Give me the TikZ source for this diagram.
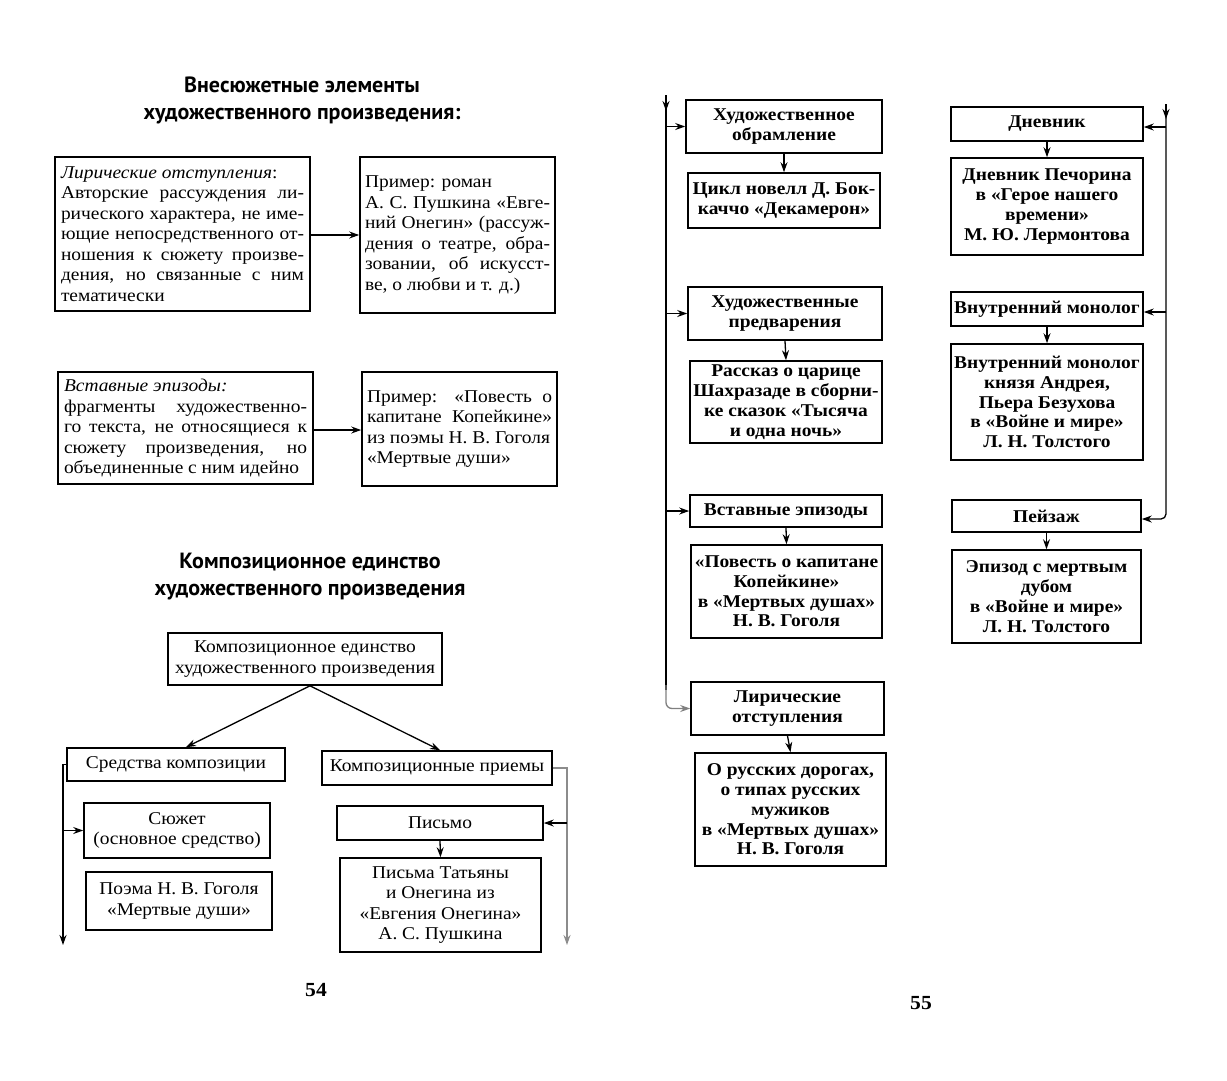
\documentclass[tikz,border=0pt]{standalone}
\usepackage{fontspec}
\setmainfont{Liberation Serif}[FakeStretch=1.08]
\newfontfamily\titlefont{PT Sans}
\usetikzlibrary{arrows.meta,calc}
\tikzset{
  box/.style={draw, line width=1.6pt, inner sep=0pt, font=\fontsize{18}{20.5}\selectfont, align=center},
  jbox/.style={box, align=justify},
  rbox/.style={box, font=\fontsize{18}{19.8}\selectfont\bfseries},
  arr/.style={line width=1.3pt, -{Stealth[length=10pt,width=7pt]}},
  ln/.style={line width=1.3pt},
  ttl/.style={font=\titlefont\bfseries\fontsize{22}{27}\selectfont, align=center},
  pnum/.style={font=\fontsize{20}{22}\selectfont\bfseries},
}
\begin{document}
\begin{tikzpicture}[x=1pt,y=-1pt]
\useasboundingbox[fill=white] (0,0) rectangle (1227,1080);

% ---------- left page ----------
\node[ttl] (t1) at (302,100) {Внесюжетные элементы\\художественного произведения:};

\node[jbox, minimum width=255pt, minimum height=154pt, text width=243pt] (l1) at (182.5,234)
 {\textit{Лирические отступления}:\\
  Авторские рассуждения ли-\linebreak
  рического характера, не име-\linebreak
  ющие непосредственного от-\linebreak
  ношения к сюжету произве-\linebreak
  дения, но связанные с ним\linebreak
  тематически};
\node[jbox, minimum width=195pt, minimum height=156pt, text width=185pt] (r1) at (457.5,235)
 {Пример: роман\\
  А. С. Пушкина «Евге-\linebreak
  ний Онегин» (рассуж-\linebreak
  дения о театре, обра-\linebreak
  зовании, об искусст-\linebreak
  ве, о любви и т. д.)};
\draw[arr] (l1.east |- 0,235) -- (r1.west |- 0,235);

\node[jbox, minimum width=255pt, minimum height=112pt, text width=243pt] (l2) at (185.5,428)
 {\textit{Вставные эпизоды:}\\
  фрагменты художественно-\linebreak
  го текста, не относящиеся к\linebreak
  сюжету произведения, но\linebreak
  объединенные с ним идейно};
\node[jbox, minimum width=195pt, minimum height=114pt, text width=185pt] (r2) at (459.5,429)
 {Пример: «Повесть о\linebreak
  капитане Копейкине»\linebreak
  из поэмы Н. В. Гоголя\\
  «Мертвые души»};
\draw[arr] (l2.east |- 0,430) -- (r2.west |- 0,430);

\node[ttl] (t2) at (310,577) {Композиционное единство\\художественного произведения};

\node[box, minimum width=274pt, minimum height=52pt] (top) at (305,659)
 {Композиционное единство\\художественного произведения};
\node[box, minimum width=218pt, minimum height=33pt] (sred) at (176,764.5) {Средства композиции};
\node[box, minimum width=230pt, minimum height=34pt] (priem) at (437,768) {Композиционные приемы};
\node[box, minimum width=186pt, minimum height=55pt] (syuz) at (177,830.5) {Сюжет\\(основное средство)};
\node[box, minimum width=186pt, minimum height=58pt] (poema) at (179,901) {Поэма Н. В. Гоголя\\«Мертвые души»};
\node[box, minimum width=206pt, minimum height=34pt] (pismo) at (440,823) {Письмо};
\node[box, minimum width=201pt, minimum height=94pt] (pisma) at (440.5,905)
 {Письма Татьяны\\и Онегина из\\«Евгения Онегина»\\А. С. Пушкина};

\draw[arr] ($(top.south)+(5,0)$) -- ($(sred.north)+(10,0)$);
\draw[arr] ($(top.south)+(5,0)$) -- ($(priem.north)+(3,0)$);
\coordinate (lb) at (63,945);
\coordinate (rb) at (567,945);
\draw[arr] (sred.west) -| (lb);
\draw[arr] (syuz.west -| lb) -- (syuz.west);
\draw[arr, draw=black!45] (priem.east) -| (rb);
\draw[arr] (pismo.east -| rb) -- (pismo.east);
\draw[arr] (pismo.south) -- (pisma.north);

\node[pnum] (p54) at (316,990) {54};

% ---------- right page ----------
\node[rbox, minimum width=196pt, minimum height=53pt] (obr) at (784,126.5) {Художественное\\обрамление};
\node[rbox, minimum width=192pt, minimum height=55pt] (tsikl) at (784,200.5) {Цикл новелл Д. Бок-\\каччо «Декамерон»};
\node[rbox, minimum width=194pt, minimum height=53pt] (predv) at (785,313.5) {Художественные\\предварения};
\node[rbox, minimum width=192pt, minimum height=82pt] (rass) at (786,402) {Рассказ о царице\\Шахразаде в сборни-\\ке сказок «Тысяча\\и одна ночь»};
\node[rbox, minimum width=192pt, minimum height=32pt] (vstav) at (786,511) {Вставные эпизоды};
\node[rbox, minimum width=191pt, minimum height=93pt] (povest) at (786.5,591.5) {«Повесть о капитане\\Копейкине»\\в «Мертвых душах»\\Н. В. Гоголя};
\node[rbox, minimum width=193pt, minimum height=53pt] (lir) at (787.5,708.5) {Лирические\\отступления};
\node[rbox, minimum width=191pt, minimum height=113pt] (russ) at (790.5,809.5) {О русских дорогах,\\о типах русских\\мужиков\\в «Мертвых душах»\\Н. В. Гоголя};

\coordinate (ta) at (666,95);
\draw[arr] (ta) -- ++(0,16);
\draw[ln] (ta) -- (666,690);
\draw[arr, draw=black!50, rounded corners=6pt] (666,685) |- (lir.west);
\draw[arr] (obr.west -| ta) -- (obr.west);
\draw[arr] (predv.west -| ta) -- (predv.west);
\draw[arr] (vstav.west -| ta) -- (vstav.west);
\draw[arr] (obr.south) -- (tsikl.north);
\draw[arr] (predv.south) -- (rass.north);
\draw[arr] (vstav.south) -- (povest.north);
\draw[arr] (lir.south) -- (russ.north);

\node[rbox, minimum width=192pt, minimum height=34pt] (dnev) at (1047,124) {Дневник};
\node[rbox, minimum width=192pt, minimum height=97pt] (pech) at (1047,206.5) {Дневник Печорина\\в «Герое нашего\\времени»\\М. Ю. Лермонтова};
\node[rbox, minimum width=192pt, minimum height=34pt] (vnm) at (1047,309) {Внутренний монолог};
\node[rbox, minimum width=192pt, minimum height=116pt] (vnm2) at (1047,402) {Внутренний монолог\\князя Андрея,\\Пьера Безухова\\в «Войне и мире»\\Л. Н. Толстого};
\node[rbox, minimum width=189pt, minimum height=32pt] (pey) at (1046.5,516) {Пейзаж};
\node[rbox, minimum width=189pt, minimum height=93pt] (epiz) at (1046.5,596.5) {Эпизод с мертвым\\дубом\\в «Войне и мире»\\Л. Н. Толстого};

\coordinate (tb) at (1166,104);
\draw[arr] (tb) -- ++(0,15);
\draw[arr, rounded corners=5pt] (tb) |- ($(pey.east)+(0,3)$);
\draw[arr] ($(dnev.east -| tb)+(0,3)$) -- ($(dnev.east)+(0,3)$);
\draw[arr] ($(vnm.east -| tb)+(0,3)$) -- ($(vnm.east)+(0,3)$);
\draw[arr] (dnev.south) -- (pech.north);
\draw[arr] (vnm.south) -- (vnm2.north);
\draw[arr] (pey.south) -- (epiz.north);

\node[pnum] (p55) at (921,1003) {55};
\end{tikzpicture}
\end{document}
